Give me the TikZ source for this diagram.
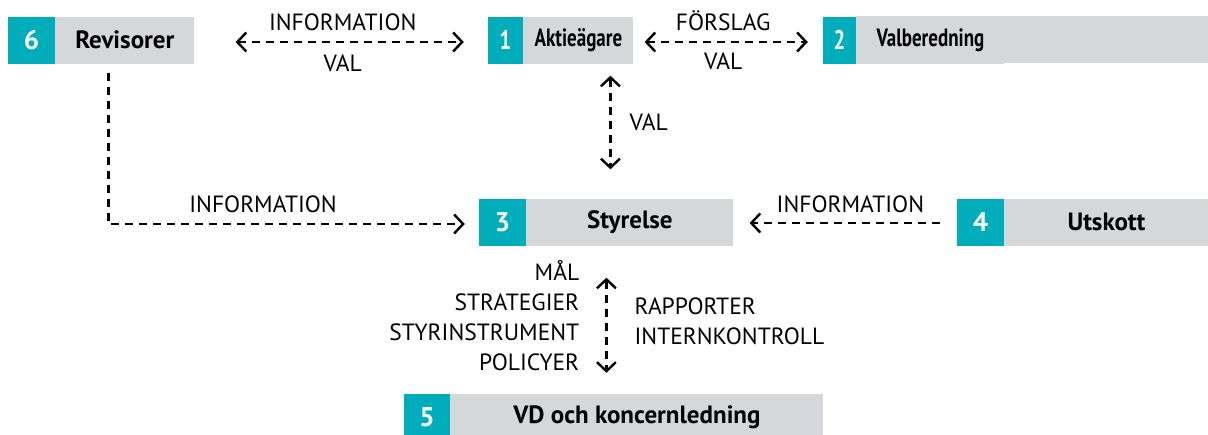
\documentclass[tikz,border=0pt]{standalone}
\usepackage{fontspec}
\setmainfont{PT Sans}
\usetikzlibrary{arrows.meta}
\definecolor{govteal}{RGB}{0,173,187}
\definecolor{govgrey}{RGB}{214,215,217}
\newcommand{\narrow}[1]{\scalebox{0.76}[1]{#1}}
\tikzset{
  numbox/.style={fill=govteal, text=white, font=\fontsize{27}{30}\selectfont\bfseries, minimum height=47pt, inner sep=0pt},
  namebox/.style={fill=govgrey, font=\fontsize{25}{30}\selectfont\bfseries, minimum height=47pt, inner sep=0pt, anchor=west},
  flow/.style={line width=2.4pt, dash pattern=on 8pt off 6pt, >={Straight Barb[length=9pt,width=19pt]}},
  lab/.style={font=\fontsize{23.5}{30}\selectfont, inner sep=0pt},
}
\begin{document}
\begin{tikzpicture}[x=1pt, y=-1pt]
\useasboundingbox (0,0) rectangle (1208,434);

\node[numbox, minimum width=47pt] (n6) at (31.5,40) {6};
\node[namebox, minimum width=139pt] (revisorer) at (n6.east) {Revisorer};
\node[numbox, minimum width=35pt] (n1) at (505.5,40) {\narrow{1}};
\node[namebox, minimum width=110pt] (aktie) at (n1.east) {\narrow{Aktieägare}};
\node[numbox, minimum width=33pt] (n2) at (839.5,40) {\narrow{2}};
\fill[govgrey] (n2.north east) rectangle ++(352,47);
\node[namebox, minimum width=148pt] (valb) at (n2.east) {\narrow{Valberedning}};
\node[numbox, minimum width=47pt] (n3) at (502.5,222) {3};
\node[namebox, minimum width=207pt] (styrelse) at (n3.east) {Styrelse};
\node[numbox, minimum width=47pt] (n4) at (980.5,222) {4};
\node[namebox, minimum width=204pt] (utskott) at (n4.east) {Utskott};
\node[numbox, minimum width=46pt] (n5) at (427,417.5) {5};
\node[namebox, minimum width=373pt] (vd) at (n5.east) {VD och koncernledning};

\draw[flow, <->] ([shift={(41,2)}]revisorer.east) -- ([shift={(-24,2)}]n1.west)
  node[lab, midway, above=10pt, xshift=-7pt] {INFORMATION}
  node[lab, midway, below=12pt, xshift=-7pt] {VAL};
\draw[flow, <->] ([shift={(11,2)}]aktie.east) -- ([shift={(-15,2)}]n2.west)
  node[lab, midway, above=10pt, xshift=-3pt] {FÖRSLAG}
  node[lab, midway, below=10pt, xshift=-3pt] {VAL};
\draw[flow, <->] ([shift={(32,12)}]aktie.south) -- ([shift={(-19.5,-29)}]styrelse.north)
  node[lab, midway, right=18pt] {VAL};
\draw[flow, ->] ([shift={(-16.5,9)}]revisorer.south) |- ([shift={(-14,2)}]n3.west)
  node[lab, pos=0.717, above=10pt] {INFORMATION};
\draw[flow, ->] ([shift={(-17,1)}]n4.west) -- ([shift={(16,1)}]styrelse.east)
  node[lab, pos=0.47, above=9pt] {INFORMATION};
\draw[flow, <->] ([shift={(-23.5,32)}]styrelse.south) -- ([shift={(-30.5,-21)}]vd.north)
  node[lab, midway, anchor=east, xshift=-26pt, yshift=9.5pt, align=right] {MÅL\\STRATEGIER\\STYRINSTRUMENT\\POLICYER}
  node[lab, midway, anchor=west, xshift=27pt, yshift=3.5pt, align=left] {RAPPORTER\\INTERNKONTROLL};
\end{tikzpicture}
\end{document}
